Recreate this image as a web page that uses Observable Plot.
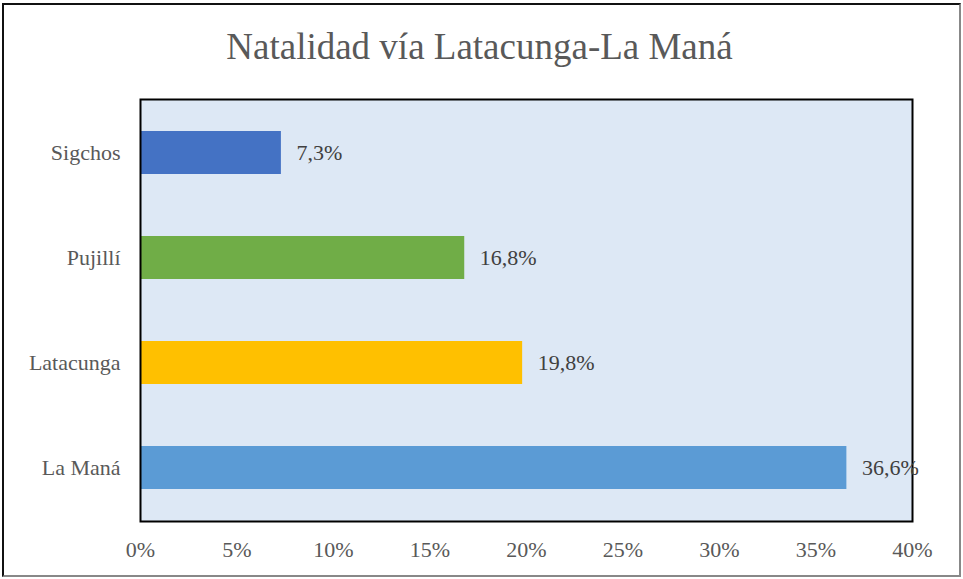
<!DOCTYPE html>
<html>
<head>
<meta charset="utf-8">
<script src="https://cdn.jsdelivr.net/npm/d3@7"></script>
<script src="https://cdn.jsdelivr.net/npm/@observablehq/plot@0.6"></script>
<style>
  html, body { margin: 0; padding: 0; background: #fff; }
  #wrap { position: relative; width: 963px; height: 579px; }
  #border { position: absolute; left: 2px; top: 3px; width: 959px; height: 574px; box-sizing: border-box;
            border-top: 2px solid #111; border-left: 2px solid #111; border-right: 2px solid #888; border-bottom: 2px solid #888; pointer-events: none; }
  #chart { position: absolute; left: 0; top: 0; }
</style>
</head>
<body>
<div id="wrap"><div id="chart"></div><div id="border"></div></div>
<script>
const title = "Natalidad vía Latacunga-La Maná";
const categories = ["Sigchos", "Pujillí", "Latacunga", "La Maná"];
const values = [7.3, 16.8, 19.8, 36.6];
const colors = ["#4472C4", "#70AD47", "#FFC000", "#5B9BD5"];
const ticks = [0, 5, 10, 15, 20, 25, 30, 35, 40];

const data = categories.map((c, i) => ({cat: c, value: values[i], color: colors[i]}));
const fmt = v => v.toFixed(1).replace(".", ",") + "%";
const FONT = "Liberation Serif";

const chart = Plot.plot({
  width: 963,
  height: 579,
  marginLeft: 140,
  marginRight: 51,
  marginTop: 99,
  marginBottom: 58,
  style: {background: "transparent"},
  x: {domain: [0, 40], ticks: ticks, tickFormat: d => d + "%", label: null},
  y: {domain: categories, paddingInner: 0.59, paddingOuter: 0.295, label: null},
  marks: [
    Plot.frame({fill: "#DDE8F5", stroke: "none"}),
    Plot.barX(data, {x: "value", y: "cat", fill: "color"}),
    Plot.frame({stroke: "#000", strokeWidth: 2}),
    Plot.text(data, {x: "value", y: "cat", text: d => fmt(d.value), textAnchor: "start", dx: 15,
      fill: "#404040", fontSize: 22, fontFamily: FONT}),
    Plot.axisX({ticks: ticks, tickFormat: d => d + "%", tickSize: 0, tickPadding: 20, fontSize: 22, fontFamily: FONT, color: "#595959", label: null}),
    Plot.axisY({tickSize: 0, tickPadding: 20, fontSize: 22, fontFamily: FONT, color: "#595959", label: null}),
    Plot.text([title], {frameAnchor: "top", dx: -47, dy: -52, fontSize: 37, fontFamily: FONT, fill: "#595959", lineAnchor: "middle"})
  ]
});
chart.style.setProperty("font-family", FONT, "important");
chart.querySelectorAll("g, text, tspan").forEach(el => {
  el.setAttribute("font-family", FONT);
  el.style.setProperty("font-family", FONT, "important");
});
document.getElementById("chart").appendChild(chart);
</script>
</body>
</html>
